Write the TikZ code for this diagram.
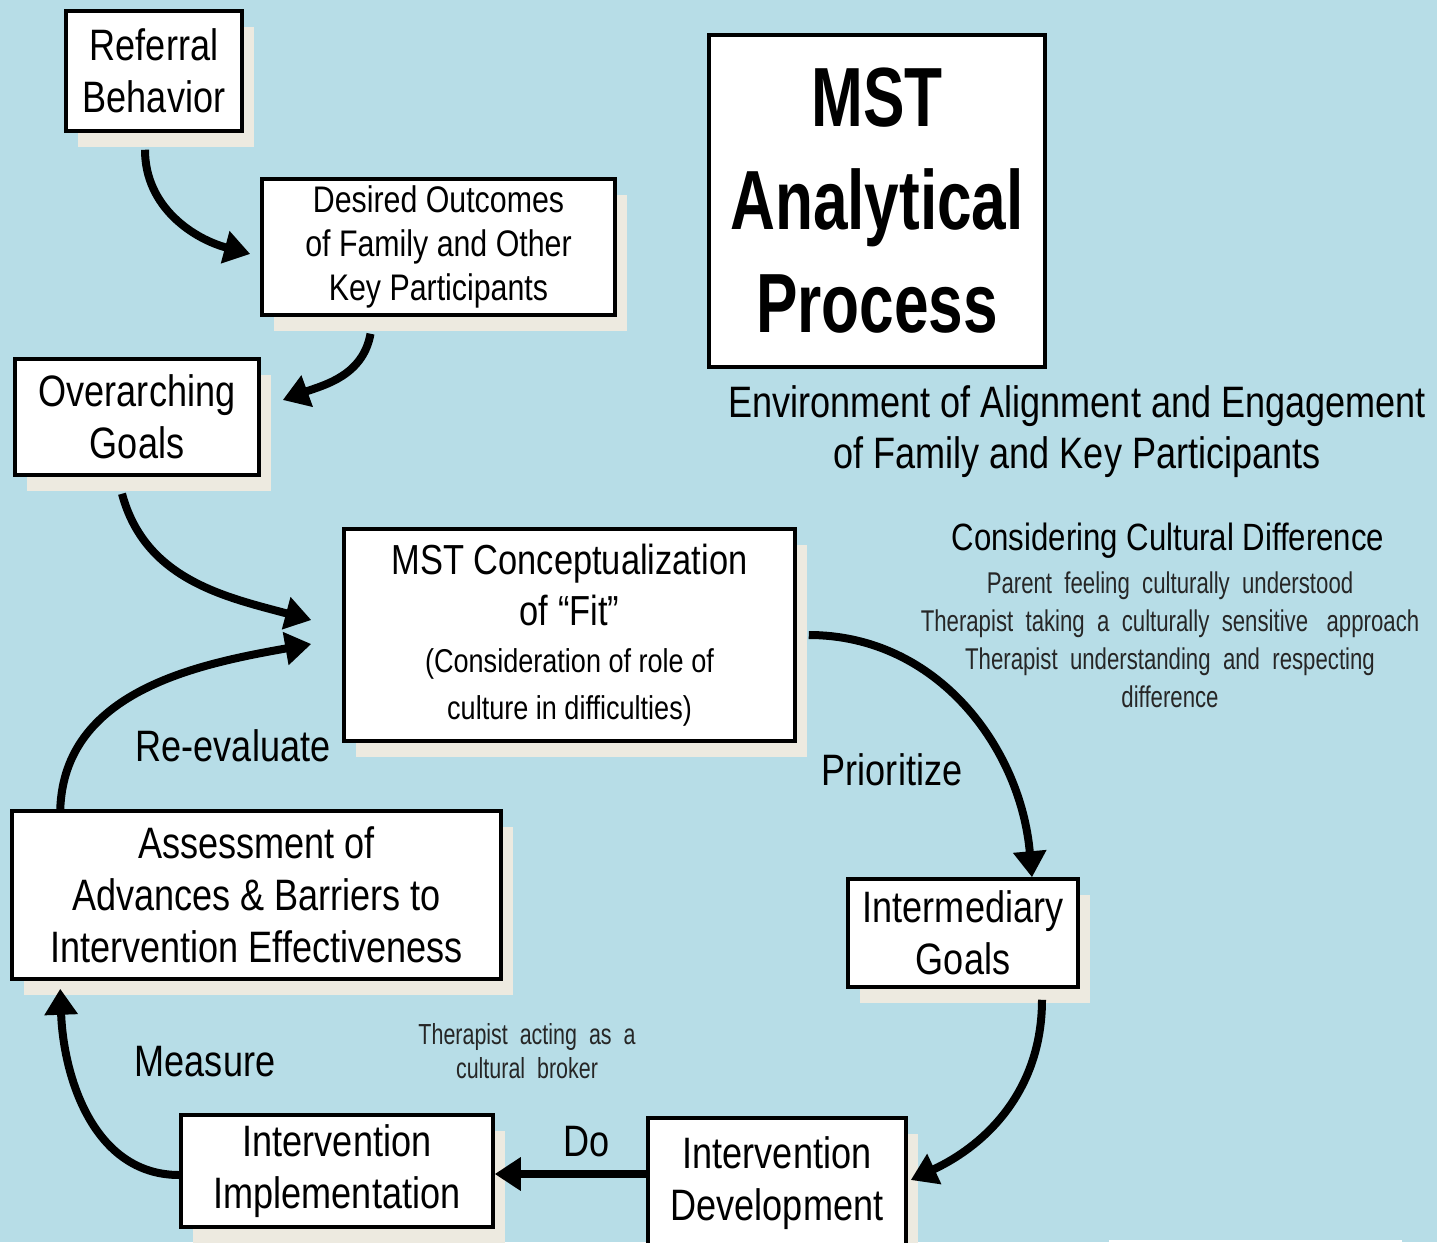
\documentclass[tikz,border=0pt]{standalone}
\usepackage{fontspec}
\setmainfont{Liberation Sans}[FakeStretch=0.82]
\newfontfamily\titlefont{Liberation Sans}[FakeStretch=0.74]
\newfontfamily\narrowfont{Liberation Sans}[FakeStretch=0.74]
\usetikzlibrary{arrows.meta,shadows}

\definecolor{bgblue}{RGB}{183,221,231}
\definecolor{shadowc}{RGB}{237,234,224}

\newcommand\boxfont{\fontsize{44}{52}\selectfont}

\begin{document}
\begin{tikzpicture}[x=1pt,y=1pt,
  box/.style={draw, line width=3.5pt, fill=white, align=center, inner sep=0pt, font=\boxfont,
    drop shadow={shadow xshift=12pt,shadow yshift=-16pt,fill=shadowc,opacity=1}},
  flow/.style={line width=8pt, -{Triangle[length=26pt,width=32pt]}},
  lbl/.style={font=\boxfont, inner sep=0pt, align=center},
  note/.style={font=\narrowfont\fontsize{30}{38}\selectfont, text=black!85, inner sep=0pt, align=center}]
  \useasboundingbox (0,0) rectangle (1437,-1242);
  \clip (0,0) rectangle (1437,-1242);
  \fill[bgblue] (0,0) rectangle (1437,-1242);

  % boxes
  \node[box, minimum width=176pt, minimum height=120pt] (referral) at (154,-71) {Referral\\Behavior};
  \node[box, minimum width=353pt, minimum height=136pt, font=\fontsize{37}{44}\selectfont]
    (desired) at (438.5,-247) {Desired Outcomes\\of Family and Other\\Key Participants};
  \node[box, minimum width=244pt, minimum height=116pt] (overarch) at (137,-417) {Overarching\\Goals};
  \node[draw, line width=3.5pt, fill=white, align=center, inner sep=0pt,
    minimum width=336pt, minimum height=332pt, font=\titlefont\bfseries\fontsize{84}{103}\selectfont]
    (title) at (877,-201) {MST\\Analytical\\Process};
  \node[box, minimum width=451pt, minimum height=212pt, text width=440pt, align=flush center]
    (concept) at (569.5,-635) {\fontsize{42}{51}\selectfont MST Conceptualization\\of “Fit”\par
    \fontsize{33}{47}\selectfont (Consideration of role of\\culture in difficulties)\par};
  \node[box, minimum width=230pt, minimum height=108pt] (inter) at (963,-933) {Intermediary\\Goals};
  \node[box, minimum width=489pt, minimum height=168pt] (assess) at (256.5,-895)
    {Assessment of\\Advances \& Barriers to\\Intervention Effectiveness};
  \node[box, minimum width=312pt, minimum height=112pt] (impl) at (337,-1171) {Intervention\\Implementation};
  \node[box, minimum width=258pt, minimum height=130pt] (dev) at (777,-1183) {Intervention\\Development};

  % free text
  \node[lbl, font=\boxfont\fontsize{44}{51}\selectfont] (env) at (1077,-432)
    {Environment of Alignment and Engagement\\of Family and Key Participants};
  \node[lbl, font=\fontsize{38}{44}\selectfont] (cultitle) at (1168,-541) {Considering Cultural Difference};
  \node[note] (cultlines) at (1170,-640) {Parent \ feeling \ culturally \ understood\\
    Therapist \ taking \ a \ culturally \ sensitive \ \ approach\\
    Therapist \ understanding \ and \ respecting\\difference};
  \node[note, font=\narrowfont\fontsize{29}{34}\selectfont] (broker) at (527,-1051)
    {Therapist \ acting \ as \ a\\cultural \ broker};
  \node[lbl] (reeval) at (233,-746) {Re-evaluate};
  \node[lbl] (prio) at (892,-770) {Prioritize};
  \node[lbl] (do) at (587,-1142) {Do};
  \node[lbl] (measure) at (205,-1062) {Measure};

  % arrows
  \draw[flow] ([xshift=-9pt,yshift=-17pt]referral.south) to[out=-90,in=165] ([xshift=-10pt,yshift=-7pt]desired.west);
  \draw[flow] ([xshift=-68pt,yshift=-17pt]desired.south) to[out=-100,in=20] ([xshift=22pt,yshift=17pt]overarch.east);
  \draw[flow] ([xshift=-15pt,yshift=-17pt]overarch.south) to[out=-75,in=165] ([xshift=-31pt,yshift=15pt]concept.west);
  \draw[flow] ([xshift=50pt]assess.north west) to[out=88,in=-170] ([xshift=-31pt,yshift=-9pt]concept.west);
  \draw[flow] ([xshift=12pt]concept.east) to[out=0,in=95] ([xshift=69pt]inter.north);
  \draw[flow] ([xshift=79pt,yshift=-11pt]inter.south) to[out=-90,in=25] ([xshift=3pt,yshift=3pt]dev.east);
  \draw[flow] ([yshift=9pt]dev.west) -- ([yshift=-3pt]impl.east);
  \draw[flow] ([yshift=-4pt]impl.west) to[out=180,in=-88] ([xshift=50pt,yshift=-8pt]assess.south west);

  \fill[white] (1109,-1240) rectangle (1402,-1242);
\end{tikzpicture}
\end{document}
